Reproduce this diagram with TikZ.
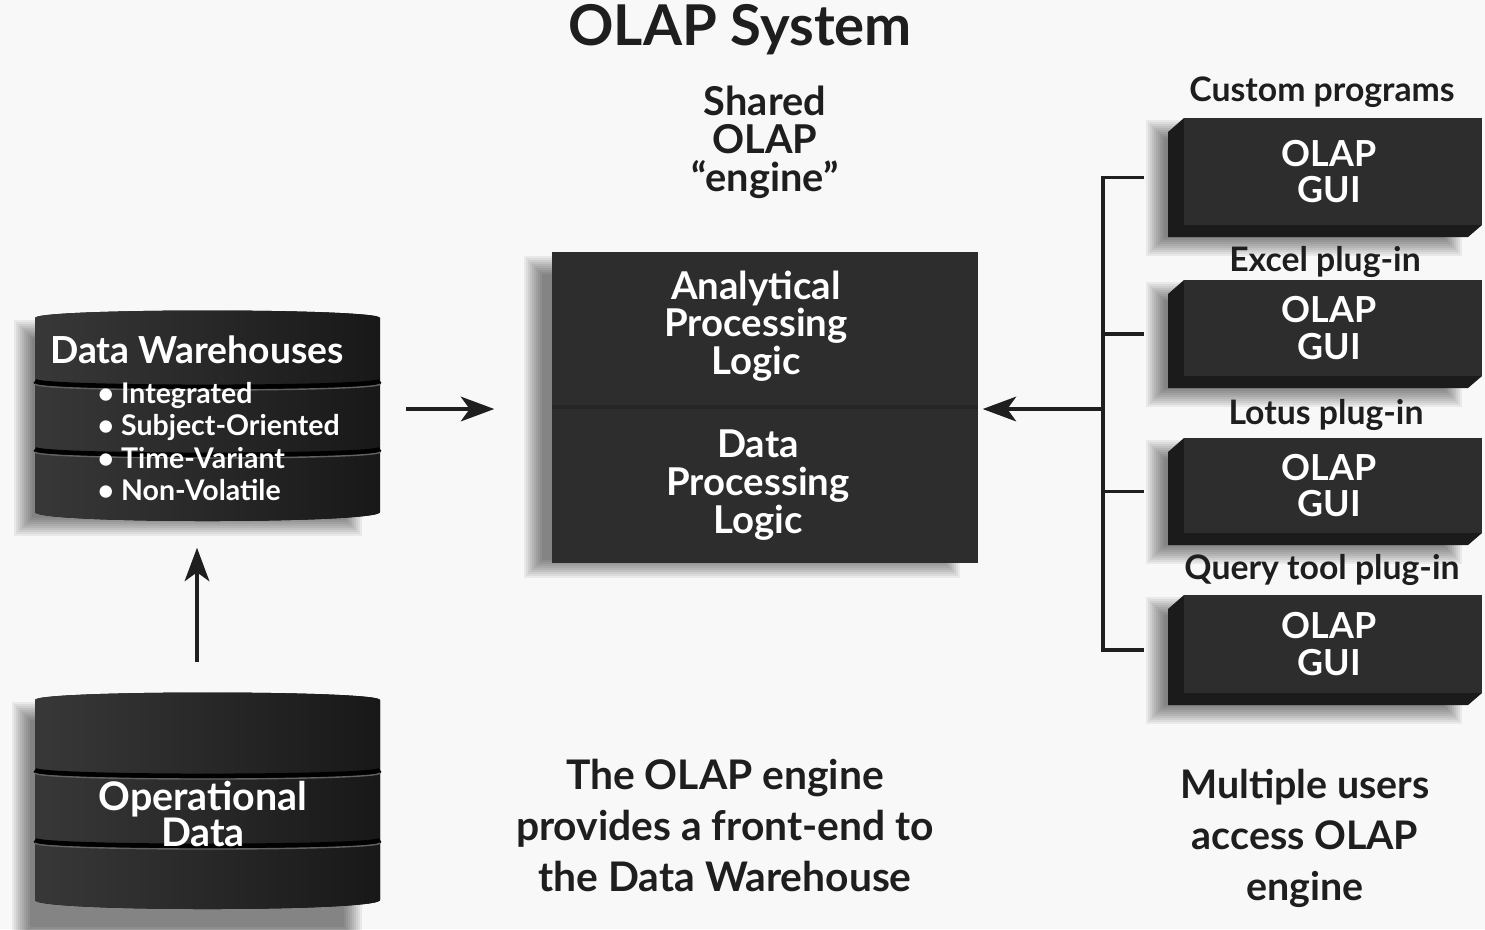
\documentclass[tikz,border=0pt]{standalone}
\usepackage{fontspec}
\setmainfont{Lato}
\usetikzlibrary{arrows.meta,fit}
\definecolor{bgc}{HTML}{F8F8F8}
\definecolor{boxdark}{HTML}{2D2D2D}
\definecolor{boxside}{HTML}{1B1B1B}
\definecolor{txtdark}{HTML}{1E1E1E}
\definecolor{cylL}{HTML}{383838}
\definecolor{cylM}{HTML}{2A2A2A}
\definecolor{cylR}{HTML}{181818}
\tikzset{
  lbl/.style={text=txtdark, font=\bfseries, align=center, inner sep=0pt},
  wtxt/.style={text=white, align=center, inner sep=0pt},
  conn/.style={line width=1.1pt, draw=black!88},
  arr/.style={conn, -{Stealth[length=9.5pt,width=7pt,inset=2.5pt]}},
  ghost/.style={inner sep=0pt, draw=none},
}
\newcommand\blurbox[4]{%
  \foreach \k in {0,...,9}{%
    \fill[black,opacity=0.06] ({#1-10+2*\k},{#2-10+2*\k}) rectangle ({#3+10-2*\k},{#4+10-2*\k});
  }}
\newcommand\drum[4]{%
  \fill[left color=cylL, middle color=cylM, right color=cylR]
    (#1,#2) .. controls (#1,{#2-10}) and (#3,{#2-10}) .. (#3,#2) -- (#3,#4)
    .. controls (#3,{#4+12}) and (#1,{#4+12}) .. (#1,#4) -- cycle;}
\newcommand\band[3]{%
  \draw[black, line width=1.4pt] (#1,#2) .. controls (#1,{#2+8}) and (#3,{#2+8}) .. (#3,#2);
  \draw[black!62, line width=0.4pt] (#1,{#2+3}) .. controls (#1,{#2+11}) and (#3,{#2+11}) .. (#3,{#2+3});}
\newcommand\guibox[3]{%
  \blurbox{1156}{#2+12}{1452}{#3+9}
  \fill[boxside] (1184,#2) -- (1168,{#2+14}) -- (1168,#3) -- (1468,#3) -- (1482,{#3-12}) -- (1184,{#3-12}) -- cycle;
  \fill[boxdark] (1184,#2) rectangle (1482,{#3-12});
  \node[ghost, fit={(1168,#2) (1482,#3)}] (#1) {};
  \node[wtxt, font=\fontsize{10.2}{10.4}\selectfont\bfseries] (#1t) at (1329,{(#2+#3-12)/2}) {OLAP\\GUI};}
\begin{document}
\begin{tikzpicture}[x=0.01cm, y=-0.01cm]
\useasboundingbox (0,0) rectangle (1485,929);
\fill[bgc] (0,0) rectangle (1485,929);

% title and upper caption
\node[lbl, font=\fontsize{16}{16}\selectfont\bfseries] (title) at (740,30) {OLAP System};
\node[lbl, font=\fontsize{11.3}{10.8}\selectfont\bfseries] (shared) at (765,142) {Shared\\OLAP\\“engine”};

% central engine box
\blurbox{534}{266}{950}{568}
\fill[boxdark] (552,252) rectangle (978,563);
\draw[black!85, line width=1.2pt] (552,407) -- (978,407);
\node[ghost, fit={(552,252) (978,563)}] (engine) {};
\node[wtxt, font=\fontsize{10.9}{10.7}\selectfont\bfseries] (apl) at (756,326) {Analytical\\Processing\\Logic};
\node[wtxt, font=\fontsize{10.9}{10.7}\selectfont\bfseries] (dpl) at (758,485) {Data\\Processing\\Logic};

% data warehouse cylinder
\blurbox{24}{330}{352}{526}
\drum{35}{318}{380}{512}
\band{35}{381}{380}
\band{35}{449}{380}
\node[ghost, fit={(35,312) (380,517)}] (dw) {};
\node[wtxt, font=\fontsize{10.6}{10.6}\selectfont\bfseries] (dwt) at (197,350) {Data Warehouses};
\node[wtxt, anchor=west, align=left, font=\fontsize{8.1}{9.25}\selectfont\bfseries] (dwl) at (97,441.5)
  {• Integrated\\• Subject-Oriented\\• Time-Variant\\• Non-Volatile};

% operational data cylinder
\blurbox{22}{712}{352}{935}
\drum{35}{700}{380}{900}
\band{35}{770}{380}
\band{35}{840}{380}
\node[ghost, fit={(35,693) (380,909)}] (op) {};
\node[wtxt, font=\fontsize{11.2}{10.2}\selectfont\bfseries] (opt) at (203,814) {Operational\\Data};

% arrows on the left
\draw[arr, shorten <=0.3cm, shorten >=0.3cm] (op.north -| 197,0) -- (dw.south -| 197,0);
\draw[arr, shorten <=0.25cm, shorten >=0.57cm] (dw.east |- 0,409) -- (engine.west |- 0,409);

% GUI boxes
\node[lbl, font=\fontsize{9.6}{9.6}\selectfont\bfseries] (lab1) at (1322,92) {Custom programs};
\guibox{gui1}{118}{237}
\node[lbl, font=\fontsize{9.6}{9.6}\selectfont\bfseries] (lab2) at (1325,262) {Excel plug-in};
\guibox{gui2}{280}{388}
\node[lbl, font=\fontsize{9.6}{9.6}\selectfont\bfseries] (lab3) at (1326,415) {Lotus plug-in};
\guibox{gui3}{438}{545}
\node[lbl, font=\fontsize{9.6}{9.6}\selectfont\bfseries] (lab4) at (1322,570) {Query tool plug-in};
\guibox{gui4}{595}{705}

% bracket
\coordinate (bk) at (1103,409);
\draw[conn] ([xshift=-0.23cm]gui1.west) -- (gui1.west -| bk) -- (gui4.west -| bk) -- ([xshift=-0.23cm]gui4.west);
\draw[conn] (gui2.west -| bk) -- ([xshift=-0.23cm]gui2.west);
\draw[conn] (gui3.west -| bk) -- ([xshift=-0.23cm]gui3.west);
\draw[arr, shorten >=0.04cm] (bk) -- (bk -| engine.east);

% bottom captions
\node[lbl, font=\fontsize{11.6}{14.5}\selectfont\bfseries] (cap1) at (725,825) {The OLAP engine\\provides a front-end to\\the Data Warehouse};
\node[lbl, font=\fontsize{11.2}{14.5}\selectfont\bfseries] (cap2) at (1305,838) {Multiple users\\access OLAP\\engine};
\end{tikzpicture}
\end{document}
